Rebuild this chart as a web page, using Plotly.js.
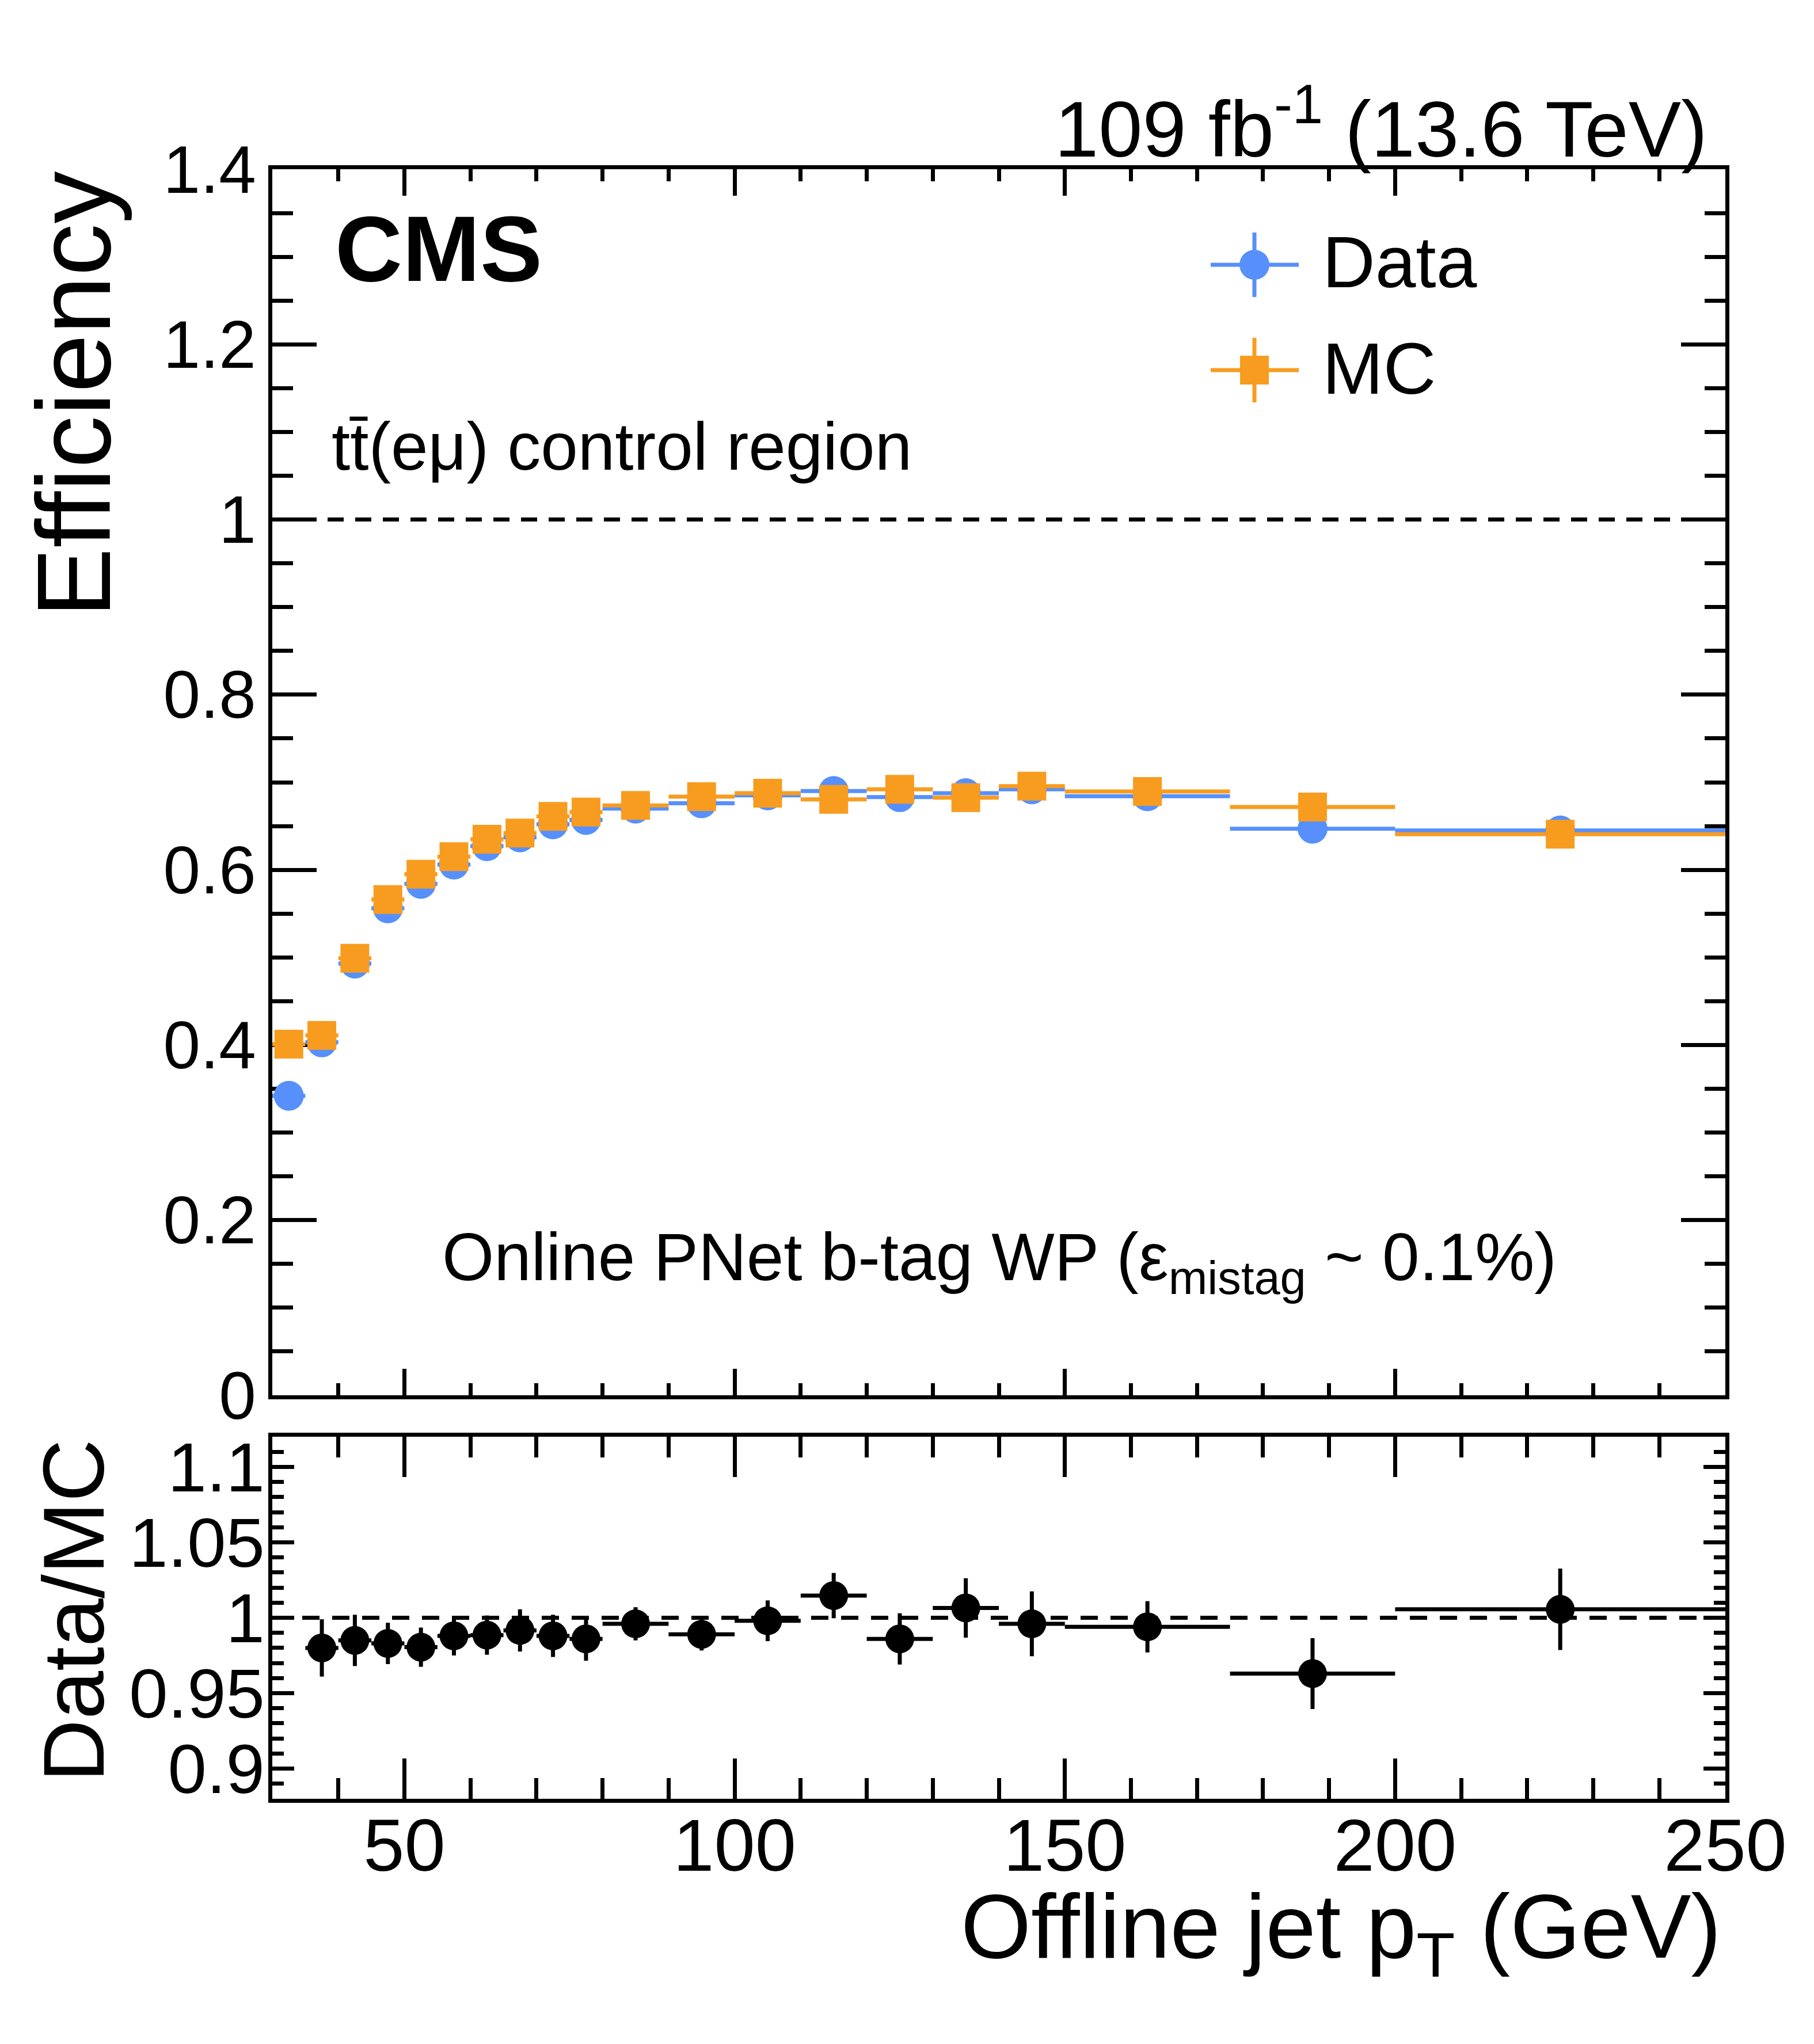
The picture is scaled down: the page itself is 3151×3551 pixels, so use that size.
<!DOCTYPE html>
<html>
<head>
<meta charset="utf-8">
<script src="https://cdn.plot.ly/plotly-3.0.1.min.js"></script>
<style>
  body { margin: 0; background: #fff; }
  #plot { width: 3151px; height: 3551px; }
</style>
</head>
<body>
<div id="plot"></div>
<script>
// bins of offline jet pT (GeV)
var binCenters = [32.5, 37.5, 42.5, 47.5, 52.5, 57.5, 62.5, 67.5, 72.5, 77.5, 85, 95, 105, 115, 125, 135, 145, 162.5, 187.5, 225];
var binHalfWidths = [2.5, 2.5, 2.5, 2.5, 2.5, 2.5, 2.5, 2.5, 2.5, 2.5, 5, 5, 5, 5, 5, 5, 5, 12.5, 12.5, 25];

// efficiencies
var dataEff = [0.342, 0.403, 0.493, 0.556, 0.584, 0.606, 0.627, 0.637, 0.652, 0.657, 0.670, 0.676, 0.685, 0.690, 0.683, 0.6875, 0.692, 0.684, 0.647, 0.645];
var dataErr = [0.010, 0.008, 0.007, 0.006, 0.006, 0.006, 0.006, 0.006, 0.007, 0.007, 0.005, 0.005, 0.006, 0.007, 0.008, 0.009, 0.010, 0.008, 0.011, 0.012];
var mcEff = [0.401, 0.411, 0.499, 0.566, 0.595, 0.615, 0.635, 0.642, 0.661, 0.666, 0.6735, 0.6835, 0.6875, 0.6805, 0.692, 0.6825, 0.6956, 0.6895, 0.6717, 0.6406];
var mcErr = [0.003, 0.003, 0.003, 0.003, 0.003, 0.003, 0.003, 0.003, 0.003, 0.003, 0.002, 0.002, 0.002, 0.003, 0.003, 0.003, 0.003, 0.003, 0.004, 0.004];

// data/MC ratio (first bin falls below the lower panel range)
var ratioCenters = binCenters.slice(1);
var ratioHalfWidths = binHalfWidths.slice(1);
var ratioVals = [0.980, 0.985, 0.983, 0.9805, 0.988, 0.9885, 0.9916, 0.988, 0.986, 0.996, 0.989, 0.998, 1.0147, 0.986, 1.0065, 0.996, 0.994, 0.963, 1.0056];
var ratioErr = [0.019, 0.017, 0.0137, 0.013, 0.013, 0.013, 0.014, 0.014, 0.0145, 0.011, 0.0107, 0.0135, 0.015, 0.017, 0.0197, 0.0215, 0.017, 0.0235, 0.027];

var mainTickVals = [0, 0.2, 0.4, 0.6, 0.8, 1, 1.2, 1.4];
var mainTickText = ['0', '0.2', '0.4', '0.6', '0.8', '1', '1.2', '1.4'];
var ratioTickVals = [0.9, 0.95, 1, 1.05, 1.1];
var ratioTickText = ['0.9', '0.95', '1', '1.05', '1.1'];
var xTickVals = [50, 100, 150, 200, 250];
var xTickText = ['50', '100', '150', '200', '250'];

var BLUE = '#5790fc';
var ORANGE = '#f89c20';
var FONT = 'Liberation Sans, Arial, Helvetica, sans-serif';

var W = 3151, H = 3551;
function px(x) { return x / W; }
function py(y) { return 1 - y / H; }

var traces = [
  {
    x: binCenters, y: dataEff, xaxis: 'x', yaxis: 'y',
    type: 'scatter', mode: 'markers', name: 'Data', showlegend: false,
    marker: { color: BLUE, size: 52, symbol: 'circle' },
    error_x: { type: 'data', array: binHalfWidths, color: BLUE, thickness: 7, width: 0 },
    error_y: { type: 'data', array: dataErr, color: BLUE, thickness: 7, width: 0 }
  },
  {
    x: binCenters, y: mcEff, xaxis: 'x', yaxis: 'y',
    type: 'scatter', mode: 'markers', name: 'MC', showlegend: false,
    marker: { color: ORANGE, size: 50, symbol: 'square' },
    error_x: { type: 'data', array: binHalfWidths, color: ORANGE, thickness: 7, width: 0 },
    error_y: { type: 'data', array: mcErr, color: ORANGE, thickness: 7, width: 0 }
  },
  {
    x: ratioCenters, y: ratioVals, xaxis: 'x2', yaxis: 'y2',
    type: 'scatter', mode: 'markers', showlegend: false,
    marker: { color: 'black', size: 50, symbol: 'circle' },
    error_x: { type: 'data', array: ratioHalfWidths, color: 'black', thickness: 7, width: 0 },
    error_y: { type: 'data', array: ratioErr, color: 'black', thickness: 7, width: 0 }
  }
];

var xDomain = [px(473), px(2997)];

function axisBase() {
  return {
    showline: true, linewidth: 7, linecolor: 'black', mirror: 'ticks',
    ticks: 'inside', tickwidth: 7, tickcolor: 'black',
    showgrid: false, zeroline: false, layer: 'below traces',
    tickfont: { family: FONT, size: 116, color: 'black' }
  };
}

var xaxis = Object.assign(axisBase(), {
  domain: xDomain, anchor: 'y', range: [30, 250],
  tickmode: 'array', tickvals: xTickVals, showticklabels: false, ticklen: 46,
  minor: { tickmode: 'linear', tick0: 0, dtick: 10, ticklen: 21, tickwidth: 7, tickcolor: 'black', ticks: 'inside' }
});
var yaxis = Object.assign(axisBase(), {
  domain: [py(2424), py(294)], anchor: 'x', range: [0, 1.4],
  tickmode: 'array', tickvals: mainTickVals, ticktext: mainTickText, ticklen: 77,
  ticklabelstandoff: -2,
  minor: { tickmode: 'linear', tick0: 0, dtick: 0.05, ticklen: 36, tickwidth: 7, tickcolor: 'black', ticks: 'inside' }
});
var xaxis2 = Object.assign(axisBase(), {
  domain: xDomain, anchor: 'y2', range: [30, 250],
  tickmode: 'array', tickvals: xTickVals, ticktext: xTickText, ticklen: 70,
  ticklabelstandoff: -36,
  tickfont: { family: FONT, size: 128, color: 'black' },
  minor: { tickmode: 'linear', tick0: 0, dtick: 10, ticklen: 36, tickwidth: 7, tickcolor: 'black', ticks: 'inside' }
});
var yaxis2 = Object.assign(axisBase(), {
  domain: [py(3125), py(2496)], anchor: 'x2', range: [0.88, 1.12],
  tickmode: 'array', tickvals: ratioTickVals, ticktext: ratioTickText, ticklen: 38,
  ticklabelstandoff: -18,
  tickfont: { family: FONT, size: 121, color: 'black' },
  minor: { tickmode: 'linear', tick0: 0, dtick: 0.01, ticklen: 20, tickwidth: 7, tickcolor: 'black', ticks: 'inside' }
});

var shapes = [
  { type: 'line', xref: 'x', yref: 'y', x0: 30, x1: 250, y0: 1, y1: 1,
    line: { color: 'black', width: 7, dash: '28px,20px' }, layer: 'below' },
  { type: 'line', xref: 'x2', yref: 'y2', x0: 30, x1: 250, y0: 1, y1: 1,
    line: { color: 'black', width: 7, dash: '30px,22px' }, layer: 'below' },
  // legend symbols
  { type: 'line', xref: 'paper', yref: 'paper', x0: px(2103), x1: px(2256), y0: py(460), y1: py(460), line: { color: BLUE, width: 7 } },
  { type: 'line', xref: 'paper', yref: 'paper', x0: px(2179), x1: px(2179), y0: py(404), y1: py(516), line: { color: BLUE, width: 7 } },
  { type: 'circle', xref: 'paper', yref: 'paper', x0: px(2153), x1: px(2205), y0: py(434), y1: py(486), fillcolor: BLUE, line: { width: 0 } },
  { type: 'line', xref: 'paper', yref: 'paper', x0: px(2103), x1: px(2256), y0: py(643), y1: py(643), line: { color: ORANGE, width: 7 } },
  { type: 'line', xref: 'paper', yref: 'paper', x0: px(2179), x1: px(2179), y0: py(587), y1: py(699), line: { color: ORANGE, width: 7 } },
  { type: 'rect', xref: 'paper', yref: 'paper', x0: px(2154), x1: px(2204), y0: py(618), y1: py(668), fillcolor: ORANGE, line: { width: 0 } }
];

function note(text, x, y, size, xanchor, yanchor, extra) {
  return Object.assign({
    text: text, xref: 'paper', yref: 'paper', x: px(x), y: py(y),
    xanchor: xanchor, yanchor: yanchor, showarrow: false,
    font: { family: FONT, size: size, color: 'black' }
  }, extra || {});
}

var annotations = [
  note('109 fb<sup>-1</sup> (13.6 TeV)', 2968, 214, 137, 'right', 'middle'),
  note('<b>CMS</b>', 580, 432, 162, 'left', 'middle'),
  note('tt\u0304(e\u03bc) control region', 574, 776, 116, 'left', 'middle'),
  note('Online PNet b-tag WP (\u03b5<sub>mistag</sub> ~ 0.1%)', 1736, 2192, 116, 'center', 'middle'),
  note('Data', 2295, 455, 127, 'left', 'middle'),
  note('MC', 2295, 640, 127, 'left', 'middle'),
  note('Efficiency', 128, 295, 182, 'center', 'top', { textangle: -90 }),
  note('Data/MC', 127, 2498, 151, 'center', 'top', { textangle: -90 }),
  note('Offline jet p<sub>T</sub> (GeV)', 2992, 3358, 157, 'right', 'middle')
];

var layout = {
  width: W, height: H, autosize: false,
  margin: { l: 0, r: 0, t: 0, b: 0 },
  paper_bgcolor: 'white', plot_bgcolor: 'white',
  showlegend: false,
  font: { family: FONT, color: 'black' },
  xaxis: xaxis, yaxis: yaxis, xaxis2: xaxis2, yaxis2: yaxis2,
  shapes: shapes, annotations: annotations
};

Plotly.newPlot('plot', traces, layout, { staticPlot: true });
</script>
</body>
</html>
